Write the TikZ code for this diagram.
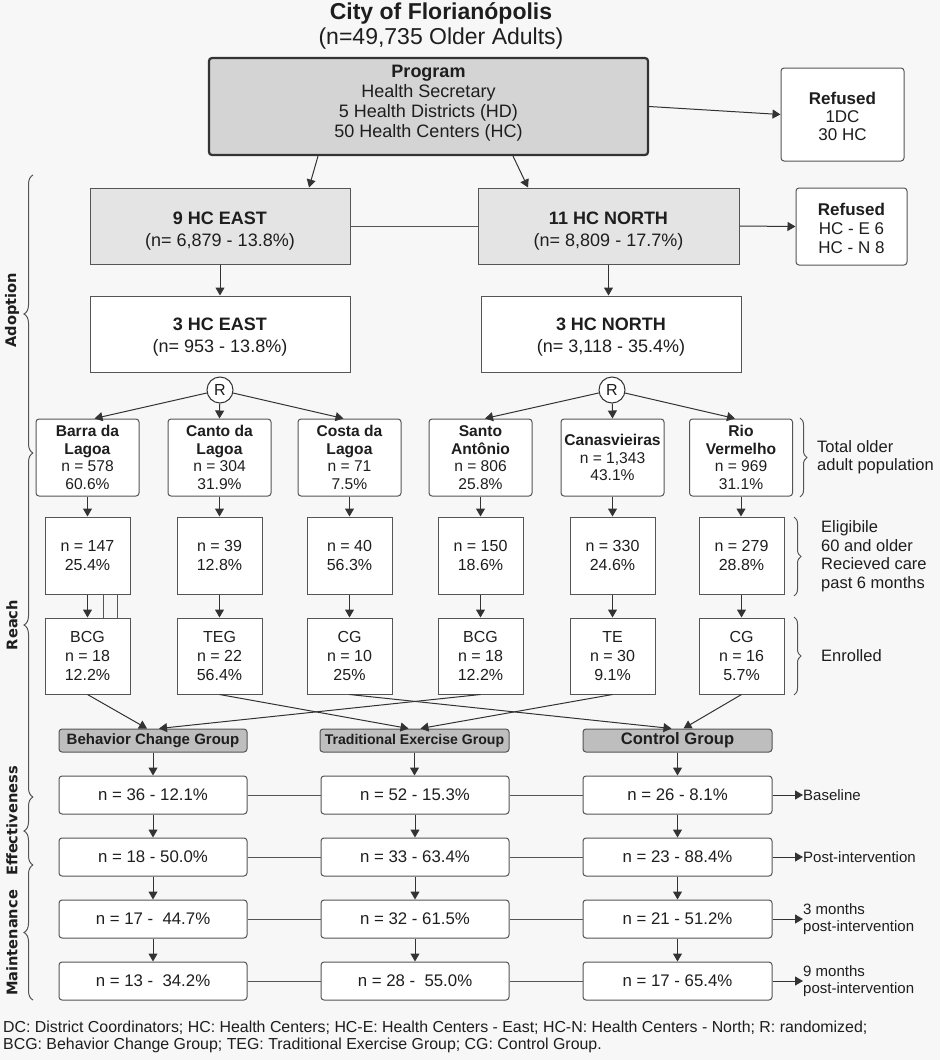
\documentclass[tikz,border=0pt]{standalone}
\usepackage{fontspec}
\setmainfont{Liberation Sans}
\newfontfamily\sidefont{DejaVu Sans}
\usetikzlibrary{arrows.meta,decorations.pathreplacing,calc}
\definecolor{bg}{HTML}{F7F7F7}
\definecolor{linec}{HTML}{555555}
\definecolor{arrc}{HTML}{333333}
\definecolor{progfill}{HTML}{D4D4D4}
\definecolor{hcfill}{HTML}{E4E4E4}
\definecolor{grpfill}{HTML}{BEBEBE}
\definecolor{txt}{HTML}{1E1E1E}
\newcommand\fsz[2]{\fontsize{#1}{#2}\selectfont}
\tikzset{
  box/.style={draw=linec, fill=white, line width=1pt, align=center, inner sep=0pt, text=txt},
  rbox/.style={box, rounded corners=3pt},
  inlbl/.style={text=txt, align=center, inner sep=0pt},
  arr/.style={draw=arrc, line width=1pt, -{Triangle[length=8pt,width=9pt]}},
  ln/.style={draw=linec, line width=1pt},
  brcR/.style={draw=linec, line width=1pt, decorate, decoration={brace, amplitude=7pt}},
  brcL/.style={draw=linec, line width=1pt, decorate, decoration={brace, amplitude=9pt}},
  lab/.style={text=txt, align=left, inner sep=0pt},
  side/.style={text=txt, rotate=90, font=\sidefont\bfseries\fsz{14.6}{18}, inner sep=0pt},
  rowone/.style={rbox, minimum width=103pt, minimum height=77pt, font=\fsz{15.6}{17.7}},
  rowtwo/.style={box, minimum width=85pt, minimum height=77pt, font=\fsz{16}{18.7}},
  rowthree/.style={box, minimum width=85pt, minimum height=76pt, font=\fsz{16}{18.7}},
  grp/.style={rbox, fill=grpfill, minimum width=188pt, minimum height=23pt, font=\bfseries\fsz{15}{17}},
  res/.style={rbox, minimum width=188pt, minimum height=38pt, font=\fsz{16.8}{19}}
}
\begin{document}
\begin{tikzpicture}[x=1pt,y=-1pt]
\fill[bg] (0,0) rectangle (940,1060);
\useasboundingbox (0,0) rectangle (940,1060);

% title
\node[text=txt, font=\bfseries\fsz{23}{26}] (title) at (441,13) {City of Florianópolis};
\node[text=txt, font=\fsz{23}{26}] (subtitle) at (441,39) {(n=49,735 Older Adults)};

% program
\node[rbox, fill=progfill, draw=arrc, line width=2.2pt, minimum width=439pt, minimum height=97pt,
  label={[inlbl, yshift=3pt, font=\fsz{18}{20}]center:{\textbf{Program}\\Health Secretary\\5 Health Districts (HD)\\50 Health Centers (HC)}}] (prog) at (428.5,106.5) {};
\node[rbox, minimum width=123pt, minimum height=93pt,
  label={[inlbl, yshift=-2pt, font=\fsz{17}{18}]center:{\textbf{Refused}\\1DC\\30 HC}}] (ref1) at (842.5,114.5) {};

% HC level
\node[box, fill=hcfill, minimum width=260pt, minimum height=76pt,
  label={[inlbl, yshift=-5pt, font=\fsz{18}{22}]center:{\textbf{9 HC EAST}\\(n= 6,879 - 13.8\%)}}] (hc9e) at (220,226) {};
\node[box, fill=hcfill, minimum width=261pt, minimum height=76pt,
  label={[inlbl, yshift=-5pt, font=\fsz{18}{22}]center:{\textbf{11 HC NORTH}\\(n= 8,809 - 17.7\%)}}] (hc11n) at (608.5,226) {};
\node[rbox, minimum width=111pt, minimum height=77pt,
  label={[inlbl, yshift=-2pt, font=\fsz{17}{19}]center:{\textbf{Refused}\\HC - E 6\\HC - N 8}}] (ref2) at (851.5,226.5) {};
\node[box, minimum width=260pt, minimum height=76pt,
  label={[inlbl, yshift=-3pt, font=\fsz{18}{22}]center:{\textbf{3 HC EAST}\\(n= 953 - 13.8\%)}}] (hc3e) at (220,334) {};
\node[box, minimum width=260pt, minimum height=76pt,
  label={[inlbl, yshift=-3pt, font=\fsz{18}{22}]center:{\textbf{3 HC NORTH}\\(n= 3,118 - 35.4\%)}}] (hc3n) at (611,334) {};

% randomization
\node[draw=arrc, fill=white, circle, line width=1pt, minimum size=26pt, inner sep=0pt, text=txt, font=\fsz{16}{18}] (r1) at (220,390) {R};
\node[draw=arrc, fill=white, circle, line width=1pt, minimum size=26pt, inner sep=0pt, text=txt, font=\fsz{16}{18}] (r2) at (612,390) {R};

% row 1
\node[rowone] (t1) at (87.5,457.5) {\textbf{Barra da}\\\textbf{Lagoa}\\n = 578\\60.6\%};
\node[rowone] (t2) at (219.5,457.5) {\textbf{Canto da}\\\textbf{Lagoa}\\n = 304\\31.9\%};
\node[rowone] (t3) at (349.5,457.5) {\textbf{Costa da}\\\textbf{Lagoa}\\n = 71\\7.5\%};
\node[rowone] (t4) at (480.5,457.5) {\textbf{Santo}\\\textbf{Antônio}\\n = 806\\25.8\%};
\node[rowone] (t5) at (612.5,457.5) {\textbf{Canasvieiras}\\n = 1,343\\43.1\%};
\node[rowone] (t6) at (741,457.5) {\textbf{Rio}\\\textbf{Vermelho}\\n = 969\\31.1\%};

% row 2
\node[rowtwo] (e1) at (87.5,555.5) {n = 147\\25.4\%};
\node[rowtwo] (e2) at (219.5,555.5) {n = 39\\12.8\%};
\node[rowtwo] (e3) at (349.5,555.5) {n = 40\\56.3\%};
\node[rowtwo] (e4) at (480.5,555.5) {n = 150\\18.6\%};
\node[rowtwo] (e5) at (612.5,555.5) {n = 330\\24.6\%};
\node[rowtwo] (e6) at (741.5,555.5) {n = 279\\28.8\%};

% row 3
\node[rowthree] (n1) at (87.5,656) {BCG\\n = 18\\12.2\%};
\node[rowthree] (n2) at (219.5,656) {TEG\\n = 22\\56.4\%};
\node[rowthree] (n3) at (349.5,656) {CG\\n = 10\\25\%};
\node[rowthree] (n4) at (480.5,656) {BCG\\n = 18\\12.2\%};
\node[rowthree] (n5) at (612.5,656) {TE\\n = 30\\9.1\%};
\node[rowthree] (n6) at (741.5,656) {CG\\n = 16\\5.7\%};

% groups
\node[grp] (gb) at (153,740.5) {Behavior Change Group};
\node[grp, minimum width=189pt, font=\bfseries\fsz{14.1}{16}] (gt) at (414.5,740.5) {Traditional Exercise Group};
\node[grp, minimum width=189pt, font=\bfseries\fsz{16.6}{18}] (gc) at (677.5,740.5) {Control Group};

% results
\node[res] (a1) at (153,795) {n = 36 - 12.1\%};
\node[res] (a2) at (415,795) {n = 52 - 15.3\%};
\node[res, minimum width=189pt] (a3) at (677.5,795) {n = 26 - 8.1\%};
\node[res] (b1) at (153,857) {n = 18 - 50.0\%};
\node[res] (b2) at (415,857) {n = 33 - 63.4\%};
\node[res, minimum width=189pt] (b3) at (677.5,857) {n = 23 - 88.4\%};
\node[res] (c1) at (153,919) {n = 17 -\ \ 44.7\%};
\node[res] (c2) at (415,919) {n = 32 - 61.5\%};
\node[res, minimum width=189pt] (c3) at (677.5,919) {n = 21 - 51.2\%};
\node[res] (d1) at (153,981) {n = 13 -\ \ 34.2\%};
\node[res] (d2) at (415,981) {n = 28 -\ \ 55.0\%};
\node[res, minimum width=189pt] (d3) at (677.5,981) {n = 17 - 65.4\%};

% right-hand time labels
\node[lab, anchor=west, font=\fsz{15}{16.5}] (lbase) at (803,795) {Baseline};
\node[lab, anchor=west, font=\fsz{15}{16.5}] (lpost) at (803,857) {Post-intervention};
\node[lab, anchor=west, font=\fsz{15}{16.5}] (l3m) at (803,919) {3 months\\post-intervention};
\node[lab, anchor=west, font=\fsz{15}{16.5}] (l9m) at (803,981) {9 months\\post-intervention};

% right-hand brace labels
\node[lab, anchor=west, font=\fsz{16.5}{18.5}] (ltot) at (817,457) {Total older\\adult population};
\node[lab, anchor=west, font=\fsz{16.5}{18.5}] (lelig) at (821,556) {Eligibile\\60 and older\\Recieved care\\past 6 months};
\node[lab, anchor=west, font=\fsz{16.5}{18.5}] (lenr) at (821,656) {Enrolled};

% left side labels
\node[side] (sA) at (12,310) {Adoption};
\node[side] (sR) at (12,625) {Reach};
\node[side] (sE) at (12,821) {Effectiveness};
\node[side] (sM) at (12,943) {Maintenance};

% brace coordinates
\coordinate (bR1a) at (800,418); \coordinate (bR1b) at (800,497);
\coordinate (bR2a) at (794,517); \coordinate (bR2b) at (794,596);
\coordinate (bR3a) at (794,617); \coordinate (bR3b) at (794,695);
\coordinate (bLAa) at (33,175);  \coordinate (bLAb) at (33,453);
\coordinate (bLRa) at (33,453);  \coordinate (bLRb) at (33,797);
\coordinate (bLEa) at (33,797);  \coordinate (bLEb) at (33,865);
\coordinate (bLMa) at (33,865);  \coordinate (bLMb) at (33,1000);
\draw[brcR] (bR1a) -- (bR1b);
\draw[brcR] (bR2a) -- (bR2b);
\draw[brcR] (bR3a) -- (bR3b);
\draw[brcL] (bLAb) -- (bLAa);
\draw[brcL] (bLRb) -- (bLRa);
\draw[brcL] (bLEb) -- (bLEa);
\draw[brcL] (bLMb) -- (bLMa);

% connectors top
\draw[arr] (prog.east) -- (ref1.west);
\draw[arr] ([xshift=-110.5pt]prog.south) -- ([xshift=89pt]hc9e.north);
\draw[arr] ([xshift=84.5pt]prog.south) -- ([xshift=-80.5pt]hc11n.north);
\draw[ln] (hc9e.east) -- (hc11n.west);
\draw[arr] (hc11n.east) -- (ref2.west);
\draw[arr] (hc9e.south) -- (hc3e.north);
\draw[arr] (hc11n.south) -- (hc11n.south |- hc3n.north);

% randomization arrows
\draw[arr] (r1) -- ([xshift=7pt]t1.north);
\draw[arr] (r1) -- (t2.north);
\draw[arr] (r1) -- ([xshift=-6pt]t3.north);
\draw[arr] (r2) -- ([xshift=4.5pt]t4.north);
\draw[arr] (r2) -- (t5.north);
\draw[arr] (r2) -- ([xshift=-6pt]t6.north);

% column arrows
\foreach \i in {1,...,6} {
  \draw[arr] (t\i.south) -- (t\i.south |- e\i.north);
  \draw[arr] (e\i.south) -- (n\i.north);
}
\draw[ln] ([xshift=15.5pt]e1.south) -- ([xshift=15.5pt]n1.north);
\draw[ln] ([xshift=29.5pt]e1.south) -- ([xshift=29.5pt]n1.north);

% crossing arrows to groups
\draw[arr] (n1.south) -- ([xshift=-6pt]gb.north);
\draw[arr] (n4.south) -- ([xshift=6pt]gb.north);
\draw[arr] (n2.south) -- ([xshift=-6pt]gt.north);
\draw[arr] (n5.south) -- ([xshift=6pt]gt.north);
\draw[arr] (n3.south) -- ([xshift=-6pt]gc.north);
\draw[arr] (n6.south) -- ([xshift=6pt]gc.north);

% group to results
\draw[arr] (gb.south) -- (a1.north);
\draw[arr] (gt.south) -- (gt.south |- a2.north);
\draw[arr] (gc.south) -- (a3.north);
\foreach \c in {1,2,3} {
  \draw[arr] (a\c.south) -- (b\c.north);
  \draw[arr] (b\c.south) -- (c\c.north);
  \draw[arr] (c\c.south) -- (d\c.north);
}
\foreach \r in {a,b,c,d} {
  \draw[ln] (\r1.east) -- (\r2.west);
  \draw[ln] (\r2.east) -- (\r3.west);
}
\draw[arr] (a3.east) -- (lbase.west);
\draw[arr] (b3.east) -- (lpost.west);
\draw[arr] (c3.east) -- (l3m.west);
\draw[arr] (d3.east) -- (l9m.west);

% footer
\node[anchor=base west, text=txt, inner sep=0pt, font=\fsz{15.9}{17}] (foot1) at (3,1032)
  {DC: District Coordinators; HC: Health Centers; HC-E: Health Centers - East; HC-N: Health Centers - North; R: randomized;};
\node[anchor=base west, text=txt, inner sep=0pt, font=\fsz{15.9}{17}] (foot2) at (3,1049)
  {BCG: Behavior Change Group; TEG: Traditional Exercise Group; CG: Control Group.};
\end{tikzpicture}
\end{document}
